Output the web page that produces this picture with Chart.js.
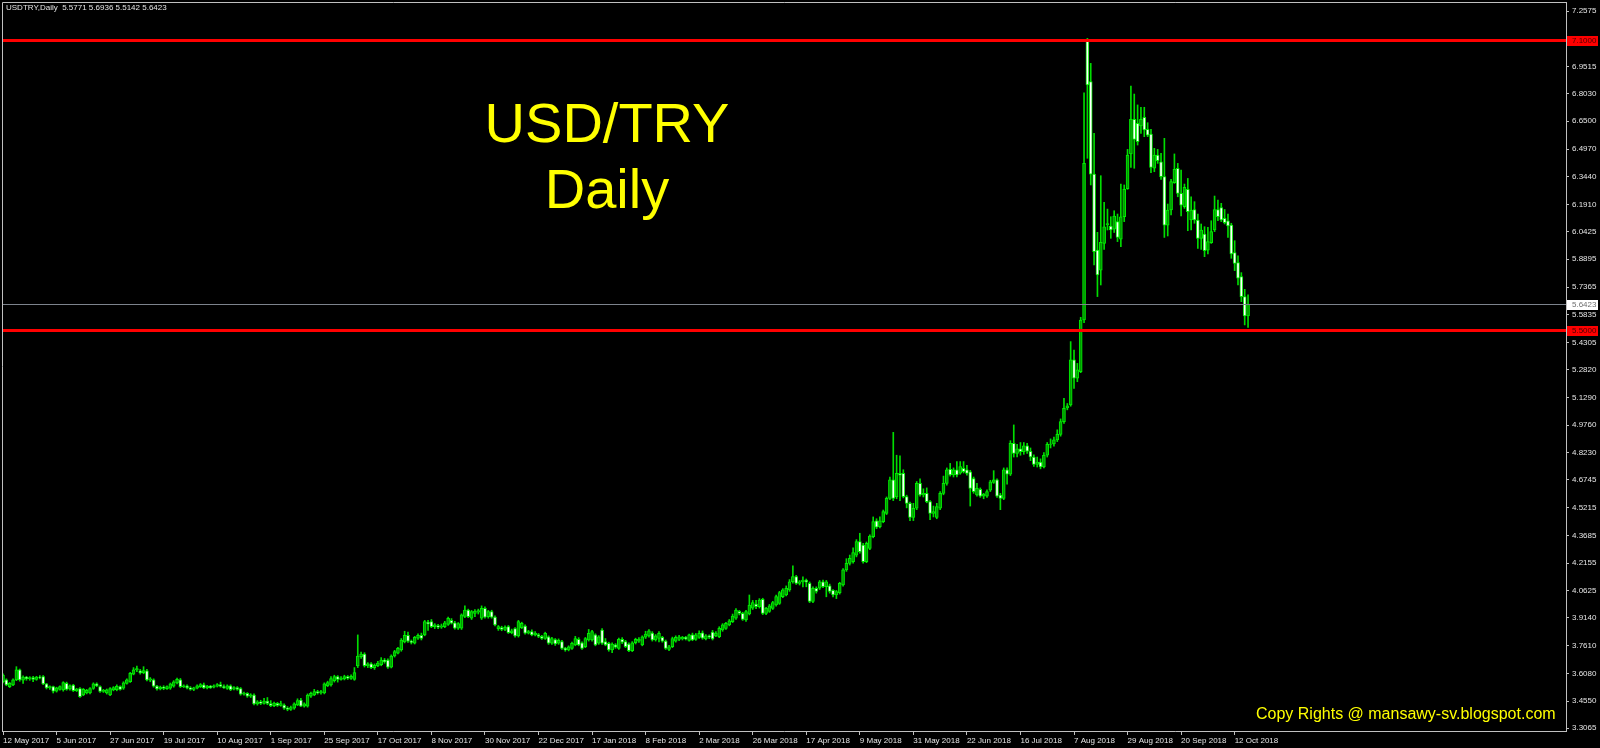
<!DOCTYPE html>
<html>
<head>
<meta charset="utf-8">
<title>USD/TRY Daily</title>
<script src="https://cdn.jsdelivr.net/npm/chart.js@4.4.1/dist/chart.umd.min.js"></script>
<style>
  html, body { margin: 0; padding: 0; background: #000; overflow: hidden; }
</style>
</head>
<body>
<canvas id="usdtryChart" width="1600" height="748"></canvas>
<script>
// Daily USDTRY candles, 12 May 2017 .. 18 Oct 2018
const openPrices = [
  3.562,3.572,3.535,3.544,3.572,3.627,3.570,3.588,3.578,3.585,
  3.575,3.588,3.590,3.550,3.528,3.535,3.510,3.520,3.517,3.553,
  3.522,3.544,3.513,3.524,3.489,3.500,3.500,3.525,3.550,3.535,
  3.508,3.500,3.490,3.517,3.518,3.535,3.526,3.553,3.563,3.604,
  3.627,3.622,3.612,3.622,3.570,3.572,3.538,3.522,3.533,3.524,
  3.526,3.537,3.555,3.572,3.535,3.540,3.528,3.520,3.526,3.535,
  3.545,3.528,3.538,3.532,3.538,3.546,3.536,3.525,3.540,3.522,
  3.530,3.524,3.494,3.498,3.482,3.489,3.440,3.452,3.443,3.456,
  3.442,3.430,3.443,3.432,3.434,3.416,3.410,3.416,3.434,3.461,
  3.428,3.428,3.482,3.490,3.508,3.500,3.500,3.540,3.544,3.568,
  3.590,3.575,3.578,3.590,3.580,3.575,3.649,3.700,3.715,3.650,
  3.660,3.640,3.650,3.656,3.682,3.682,3.642,3.704,3.720,3.737,
  3.782,3.818,3.785,3.774,3.802,3.818,3.820,3.890,3.893,3.866,
  3.872,3.862,3.866,3.878,3.900,3.887,3.857,3.857,3.922,3.957,
  3.912,3.938,3.945,3.912,3.966,3.920,3.948,3.918,3.855,3.860,
  3.850,3.866,3.833,3.855,3.814,3.860,3.869,3.829,3.838,3.820,
  3.822,3.812,3.800,3.810,3.774,3.794,3.775,3.783,3.746,3.737,
  3.746,3.765,3.796,3.777,3.755,3.792,3.792,3.820,3.774,3.847,
  3.783,3.774,3.737,3.765,3.746,3.796,3.783,3.770,3.733,3.777,
  3.786,3.765,3.808,3.815,3.830,3.792,3.800,3.806,3.786,3.740,
  3.755,3.786,3.795,3.798,3.806,3.790,3.820,3.795,3.806,3.832,
  3.798,3.815,3.836,3.815,3.810,3.847,3.856,3.875,3.893,3.912,
  3.950,3.939,3.902,3.935,3.968,3.990,3.975,4.016,3.939,3.950,
  3.966,3.985,3.994,4.031,4.040,4.068,4.113,4.141,4.104,4.113,
  4.122,4.104,4.004,4.077,4.077,4.113,4.086,4.090,4.065,4.040,
  4.053,4.095,4.178,4.214,4.224,4.260,4.334,4.315,4.224,4.297,
  4.361,4.449,4.416,4.444,4.490,4.572,4.674,4.580,4.710,4.710,
  4.582,4.545,4.468,4.518,4.655,4.591,4.600,4.554,4.490,4.468,
  4.518,4.600,4.655,4.732,4.701,4.729,4.711,4.738,4.729,4.719,
  4.682,4.591,4.622,4.585,4.585,4.618,4.660,4.674,4.590,4.572,
  4.729,4.706,4.876,4.820,4.845,4.830,4.862,4.832,4.800,4.760,
  4.772,4.745,4.810,4.870,4.872,4.895,4.925,4.995,5.070,5.087,
  5.335,5.234,5.270,5.555,7.098,6.868,6.359,5.940,5.830,5.977,
  6.080,6.073,6.055,6.097,6.000,6.124,6.279,6.470,6.661,6.638,
  6.624,6.672,6.605,6.580,6.391,6.464,6.427,6.345,6.078,6.161,
  6.312,6.390,6.253,6.179,6.275,6.106,6.164,6.106,6.005,6.029,
  5.940,5.981,6.051,6.164,6.175,6.115,6.102,6.078,5.926,5.871,
  5.794,5.684,5.5771
];
const highPrices = [
  3.605,3.578,3.558,3.578,3.645,3.632,3.594,3.592,3.590,3.592,
  3.592,3.596,3.596,3.553,3.540,3.538,3.532,3.540,3.562,3.560,
  3.545,3.548,3.526,3.530,3.525,3.520,3.530,3.556,3.556,3.540,
  3.520,3.522,3.530,3.535,3.545,3.540,3.562,3.578,3.614,3.640,
  3.648,3.630,3.645,3.630,3.585,3.578,3.542,3.538,3.540,3.540,
  3.555,3.568,3.582,3.580,3.545,3.545,3.535,3.532,3.545,3.552,
  3.555,3.542,3.542,3.545,3.552,3.560,3.545,3.545,3.545,3.535,
  3.535,3.530,3.505,3.502,3.496,3.495,3.458,3.460,3.470,3.475,
  3.458,3.450,3.448,3.455,3.440,3.425,3.428,3.446,3.468,3.470,
  3.446,3.495,3.505,3.520,3.515,3.514,3.556,3.565,3.590,3.598,
  3.596,3.590,3.598,3.596,3.600,3.640,3.820,3.725,3.722,3.667,
  3.668,3.660,3.675,3.695,3.690,3.688,3.710,3.735,3.752,3.800,
  3.840,3.836,3.792,3.812,3.826,3.830,3.900,3.900,3.905,3.882,
  3.878,3.880,3.895,3.918,3.910,3.895,3.888,3.936,3.980,3.962,
  3.955,3.960,3.962,3.980,3.975,3.955,3.956,3.925,3.872,3.868,
  3.870,3.872,3.852,3.860,3.900,3.890,3.875,3.845,3.848,3.838,
  3.828,3.818,3.835,3.815,3.806,3.800,3.798,3.790,3.752,3.760,
  3.780,3.812,3.805,3.782,3.806,3.850,3.845,3.826,3.816,3.855,
  3.800,3.780,3.776,3.772,3.802,3.805,3.790,3.776,3.783,3.802,
  3.805,3.815,3.840,3.850,3.838,3.822,3.838,3.812,3.792,3.762,
  3.808,3.815,3.818,3.812,3.812,3.825,3.830,3.828,3.842,3.842,
  3.822,3.820,3.845,3.838,3.865,3.882,3.890,3.905,3.935,3.965,
  3.955,3.945,3.955,4.040,4.010,4.010,4.020,4.022,3.972,3.988,
  4.005,4.040,4.060,4.075,4.090,4.125,4.200,4.148,4.120,4.140,
  4.128,4.112,4.085,4.085,4.120,4.122,4.120,4.100,4.070,4.065,
  4.110,4.186,4.240,4.260,4.300,4.345,4.380,4.325,4.332,4.372,
  4.470,4.460,4.470,4.508,4.580,4.690,4.936,4.810,4.806,4.730,
  4.590,4.552,4.545,4.665,4.680,4.625,4.630,4.560,4.530,4.545,
  4.610,4.695,4.740,4.765,4.740,4.775,4.775,4.775,4.755,4.727,
  4.690,4.655,4.630,4.600,4.620,4.672,4.725,4.680,4.600,4.740,
  4.740,4.890,4.977,4.870,4.880,4.880,4.875,4.850,4.812,4.800,
  4.790,4.825,4.880,4.900,4.910,4.950,5.010,5.123,5.095,5.436,
  5.390,5.316,5.570,6.807,7.107,6.969,6.583,6.038,6.350,6.203,
  6.166,6.124,6.157,6.139,6.304,6.299,6.495,6.844,6.800,6.740,
  6.727,6.727,6.642,6.605,6.501,6.495,6.473,6.556,6.194,6.330,
  6.470,6.418,6.381,6.304,6.335,6.234,6.207,6.139,6.084,6.069,
  6.065,6.102,6.238,6.216,6.198,6.164,6.139,6.088,5.992,5.908,
  5.816,5.724,5.6936
];
const lowPrices = [
  3.555,3.540,3.530,3.540,3.568,3.565,3.553,3.570,3.570,3.562,
  3.570,3.578,3.546,3.522,3.520,3.500,3.505,3.515,3.510,3.515,
  3.515,3.508,3.508,3.475,3.485,3.495,3.495,3.520,3.535,3.503,
  3.503,3.494,3.485,3.512,3.512,3.515,3.520,3.548,3.558,3.600,
  3.618,3.604,3.606,3.566,3.562,3.532,3.515,3.517,3.518,3.520,
  3.520,3.532,3.550,3.530,3.530,3.522,3.515,3.513,3.522,3.530,
  3.524,3.522,3.525,3.528,3.533,3.532,3.525,3.520,3.513,3.517,
  3.515,3.488,3.488,3.476,3.475,3.434,3.433,3.436,3.438,3.436,
  3.425,3.424,3.426,3.427,3.410,3.402,3.404,3.410,3.430,3.424,
  3.422,3.422,3.476,3.485,3.494,3.494,3.495,3.535,3.538,3.560,
  3.560,3.570,3.572,3.575,3.575,3.570,3.640,3.690,3.643,3.640,
  3.634,3.630,3.645,3.650,3.664,3.636,3.638,3.698,3.715,3.730,
  3.776,3.778,3.770,3.770,3.795,3.792,3.815,3.845,3.860,3.855,
  3.855,3.856,3.860,3.872,3.880,3.852,3.850,3.850,3.915,3.915,
  3.905,3.920,3.935,3.905,3.912,3.912,3.912,3.870,3.845,3.843,
  3.843,3.828,3.826,3.808,3.808,3.855,3.824,3.825,3.815,3.815,
  3.805,3.795,3.795,3.768,3.768,3.762,3.768,3.740,3.730,3.732,
  3.740,3.760,3.760,3.740,3.750,3.786,3.786,3.760,3.768,3.768,
  3.760,3.730,3.722,3.746,3.740,3.772,3.750,3.728,3.728,3.770,
  3.778,3.760,3.800,3.808,3.786,3.786,3.782,3.780,3.740,3.733,
  3.750,3.780,3.788,3.792,3.792,3.785,3.788,3.790,3.800,3.796,
  3.792,3.800,3.792,3.810,3.805,3.840,3.850,3.870,3.888,3.905,
  3.930,3.900,3.895,3.930,3.960,3.965,3.968,3.932,3.932,3.944,
  3.960,3.978,3.988,4.025,4.035,4.060,4.105,4.098,4.095,4.085,
  4.085,3.998,3.998,4.050,4.070,4.080,4.030,4.050,4.030,4.020,
  4.045,4.088,4.170,4.205,4.215,4.250,4.270,4.215,4.218,4.290,
  4.355,4.405,4.410,4.438,4.483,4.565,4.560,4.570,4.560,4.575,
  4.520,4.450,4.450,4.510,4.585,4.580,4.548,4.455,4.470,4.460,
  4.510,4.592,4.645,4.695,4.690,4.690,4.705,4.712,4.700,4.530,
  4.600,4.585,4.578,4.570,4.578,4.610,4.655,4.578,4.510,4.565,
  4.650,4.698,4.800,4.800,4.810,4.815,4.820,4.780,4.748,4.745,
  4.735,4.740,4.800,4.850,4.860,4.885,4.915,4.985,5.060,5.080,
  5.178,5.215,5.265,5.540,6.446,6.299,5.858,5.684,5.748,5.944,
  6.051,6.005,6.037,5.987,5.959,6.097,6.275,6.396,6.391,6.519,
  6.583,6.565,6.565,6.367,6.372,6.418,6.330,6.010,6.018,6.134,
  6.308,6.234,6.128,6.170,6.047,6.051,6.088,5.950,5.944,5.904,
  5.919,5.977,6.042,6.102,6.097,6.084,6.010,5.895,5.827,5.748,
  5.656,5.528,5.5142
];
const closePrices = [
  3.599,3.544,3.553,3.572,3.627,3.572,3.588,3.578,3.585,3.575,
  3.588,3.586,3.550,3.528,3.535,3.510,3.528,3.535,3.557,3.520,
  3.540,3.513,3.522,3.480,3.520,3.515,3.525,3.550,3.540,3.508,
  3.515,3.518,3.524,3.530,3.537,3.520,3.556,3.572,3.608,3.627,
  3.635,3.610,3.624,3.572,3.578,3.538,3.522,3.533,3.525,3.535,
  3.550,3.562,3.575,3.535,3.540,3.528,3.520,3.528,3.540,3.546,
  3.528,3.538,3.530,3.540,3.546,3.536,3.530,3.540,3.518,3.530,
  3.520,3.494,3.500,3.482,3.490,3.440,3.452,3.442,3.456,3.442,
  3.430,3.445,3.432,3.442,3.416,3.410,3.420,3.440,3.458,3.428,
  3.440,3.489,3.498,3.508,3.500,3.508,3.550,3.557,3.580,3.590,
  3.575,3.582,3.590,3.582,3.592,3.612,3.704,3.715,3.650,3.660,
  3.640,3.652,3.665,3.682,3.672,3.642,3.704,3.728,3.746,3.792,
  3.818,3.785,3.778,3.806,3.818,3.800,3.893,3.880,3.866,3.875,
  3.862,3.870,3.886,3.912,3.885,3.857,3.882,3.930,3.957,3.921,
  3.948,3.952,3.954,3.966,3.918,3.948,3.918,3.875,3.866,3.850,
  3.862,3.833,3.842,3.814,3.893,3.884,3.829,3.838,3.820,3.830,
  3.812,3.800,3.829,3.774,3.800,3.770,3.790,3.746,3.737,3.755,
  3.774,3.800,3.765,3.746,3.800,3.829,3.838,3.765,3.810,3.774,
  3.765,3.737,3.770,3.752,3.796,3.780,3.755,3.733,3.777,3.796,
  3.796,3.810,3.825,3.843,3.792,3.815,3.829,3.786,3.746,3.755,
  3.800,3.806,3.810,3.806,3.798,3.820,3.792,3.820,3.829,3.802,
  3.815,3.808,3.798,3.830,3.856,3.875,3.884,3.898,3.924,3.957,
  3.939,3.906,3.948,3.985,3.998,3.975,4.012,3.939,3.966,3.980,
  3.998,4.031,4.053,4.068,4.077,4.113,4.141,4.104,4.113,4.122,
  4.110,4.004,4.077,4.059,4.113,4.086,4.113,4.059,4.040,4.059,
  4.104,4.178,4.214,4.242,4.273,4.334,4.279,4.224,4.325,4.365,
  4.444,4.413,4.449,4.499,4.572,4.674,4.572,4.710,4.700,4.582,
  4.545,4.468,4.518,4.655,4.591,4.600,4.554,4.490,4.500,4.527,
  4.600,4.655,4.729,4.701,4.729,4.701,4.747,4.719,4.710,4.627,
  4.609,4.628,4.585,4.595,4.610,4.664,4.674,4.585,4.572,4.729,
  4.706,4.876,4.820,4.845,4.830,4.862,4.832,4.800,4.760,4.772,
  4.745,4.810,4.870,4.872,4.895,4.925,4.995,5.068,5.082,5.335,
  5.234,5.280,5.555,6.418,6.850,6.359,5.931,5.803,5.983,6.069,
  6.086,6.051,6.128,6.010,6.124,6.275,6.464,6.661,6.550,6.537,
  6.661,6.602,6.574,6.396,6.464,6.433,6.345,6.078,6.161,6.317,
  6.385,6.253,6.188,6.286,6.152,6.161,6.106,6.005,6.051,5.937,
  5.987,6.042,6.164,6.124,6.106,6.091,6.073,5.919,5.867,5.785,
  5.684,5.577,5.6423
];

const xTickLabels = [
  '12 May 2017', '5 Jun 2017', '27 Jun 2017', '19 Jul 2017', '10 Aug 2017', '1 Sep 2017',
  '25 Sep 2017', '17 Oct 2017', '8 Nov 2017', '30 Nov 2017', '22 Dec 2017', '17 Jan 2018',
  '8 Feb 2018', '2 Mar 2018', '26 Mar 2018', '17 Apr 2018', '9 May 2018', '31 May 2018',
  '22 Jun 2018', '16 Jul 2018', '7 Aug 2018', '29 Aug 2018', '20 Sep 2018', '12 Oct 2018'
];
const barsPerLabel = 16;

const yTickValues = [
  7.2575, 6.9515, 6.8030, 6.6500, 6.4970, 6.3440, 6.1910, 6.0425, 5.8895, 5.7365,
  5.5835, 5.4305, 5.2820, 5.1290, 4.9760, 4.8230, 4.6745, 4.5215, 4.3685, 4.2155,
  4.0625, 3.9140, 3.7610, 3.6080, 3.4550, 3.3065
];

const levelLines = [7.1000, 5.5000];

const symbolName = 'USDTRY,Daily';
const titleLines = ['USD/TRY', 'Daily'];
const copyrightText = 'Copy Rights @ mansawy-sv.blogspot.com';

// ---- styles ----
const smallFont = '8px "Liberation Sans", Arial, sans-serif';
const axisColor = '#c0c0c0';
const labelColor = '#e4e4e4';
const wickColor = '#00dd00';
const bodyBorder = '#00ee00';
const bullFill = '#009a00';
const bearFill = '#ffffff';

const last = closePrices.length - 1;
const bidPrice = closePrices[last];

const bodyData = openPrices.map((o, i) => ({ x: i, y: [o, closePrices[i]] }));
const wickData = lowPrices.map((l, i) => ({ x: i, y: [l, highPrices[i]] }));

const mtOverlay = {
    id: 'mtOverlay',
    beforeDraw(chart) {
        const ctx = chart.ctx;
        ctx.save();
        ctx.fillStyle = '#000';
        ctx.fillRect(0, 0, chart.width, chart.height);
        ctx.restore();
    },
    afterDatasetsDraw(chart) {
        const { ctx, chartArea: a, scales: { y } } = chart;
        ctx.save();
        // bid line
        const by = Math.round(y.getPixelForValue(bidPrice)) + 0.5;
        ctx.strokeStyle = '#7d838c';
        ctx.lineWidth = 1;
        ctx.beginPath();
        ctx.moveTo(a.left, by);
        ctx.lineTo(a.right, by);
        ctx.stroke();
        // horizontal levels
        ctx.fillStyle = '#ff0000';
        levelLines.forEach(v => {
            const py = Math.round(y.getPixelForValue(v));
            ctx.fillRect(a.left, py - 1, a.right - a.left, 3);
        });
        ctx.restore();
    },
    afterDraw(chart) {
        const { ctx, chartArea: a, scales: { y } } = chart;
        ctx.save();
        // left / top frame
        ctx.strokeStyle = axisColor;
        ctx.lineWidth = 1;
        ctx.beginPath();
        ctx.moveTo(a.left + 0.5, a.bottom);
        ctx.lineTo(a.left + 0.5, a.top + 0.5);
        ctx.lineTo(a.right, a.top + 0.5);
        ctx.stroke();

        // price labels on the axis
        ctx.font = smallFont;
        ctx.textBaseline = 'middle';
        ctx.textAlign = 'left';
        levelLines.forEach(v => {
            const py = Math.round(y.getPixelForValue(v));
            ctx.fillStyle = '#ff0000';
            ctx.fillRect(a.right + 1, py - 4, 31, 10);
            ctx.fillStyle = '#4a0000';
            ctx.fillText(v.toFixed(4), a.right + 6, py + 1);
        });
        const by = Math.round(y.getPixelForValue(bidPrice));
        ctx.fillStyle = '#ffffff';
        ctx.fillRect(a.right + 1, by - 4, 31, 10);
        ctx.fillStyle = '#707070';
        ctx.fillText(bidPrice.toFixed(4), a.right + 6, by + 1);

        // header
        ctx.fillStyle = labelColor;
        ctx.textBaseline = 'alphabetic';
        ctx.fillText(symbolName + '  ' + [openPrices[last], highPrices[last], lowPrices[last], closePrices[last]]
            .map(v => v.toFixed(4)).join(' '), 6, 10);

        // titles
        ctx.fillStyle = '#ffff00';
        ctx.textAlign = 'center';
        ctx.font = '56px "Liberation Sans", Arial, sans-serif';
        ctx.fillText(titleLines[0], 607, 142);
        ctx.fillText(titleLines[1], 607, 208);

        ctx.textAlign = 'left';
        ctx.font = '16px "Liberation Sans", Arial, sans-serif';
        ctx.fillText(copyrightText, 1256, 719);
        ctx.restore();
    }
};

const ctx = document.getElementById('usdtryChart').getContext('2d');
new Chart(ctx, {
    type: 'bar',
    data: {
        datasets: [{
            label: 'Body',
            data: bodyData,
            barThickness: 3,
            grouped: false,
            order: 0,
            borderWidth: 1,
            borderSkipped: false,
            borderColor: bodyBorder,
            backgroundColor: c => closePrices[c.dataIndex] >= openPrices[c.dataIndex] ? bullFill : bearFill
        }, {
            label: 'Wick',
            data: wickData,
            barThickness: 1,
            grouped: false,
            order: 1,
            borderWidth: 0,
            backgroundColor: wickColor
        }]
    },
    options: {
        responsive: false,
        animation: false,
        events: [],
        layout: { padding: { left: 2, top: 2, right: 0, bottom: 0 } },
        plugins: {
            legend: { display: false },
            tooltip: { enabled: false }
        },
        scales: {
            x: {
                type: 'linear',
                offset: false,
                min: -0.3,
                max: 467,
                afterBuildTicks: s => {
                    s.ticks = xTickLabels.map((_, k) => ({ value: k * barsPerLabel }));
                },
                afterFit: s => {
                    s.height = 17;
                    s.paddingLeft = 0;
                    s.paddingRight = 0;
                },
                ticks: {
                    callback: v => xTickLabels[Math.round(v / barsPerLabel)],
                    autoSkip: false,
                    maxRotation: 0,
                    minRotation: 0,
                    align: 'start',
                    padding: 1,
                    color: labelColor,
                    font: { family: '"Liberation Sans", Arial, sans-serif', size: 8 }
                },
                grid: { drawOnChartArea: false, offset: false, tickLength: 4, color: axisColor },
                border: { color: axisColor, width: 1 }
            },
            y: {
                position: 'right',
                min: 3.2906,
                max: 7.3071,
                afterBuildTicks: s => {
                    s.ticks = yTickValues.map(v => ({ value: v }));
                },
                afterFit: s => {
                    s.width = 34;
                    s.paddingTop = 0;
                    s.paddingBottom = 0;
                },
                ticks: {
                    callback: v => Number(v).toFixed(4),
                    autoSkip: false,
                    padding: 3,
                    color: labelColor,
                    font: { family: '"Liberation Sans", Arial, sans-serif', size: 8 }
                },
                grid: { drawOnChartArea: false, tickLength: 3, color: axisColor },
                border: { color: axisColor, width: 1 }
            }
        }
    },
    plugins: [mtOverlay]
});
</script>
</body>
</html>
